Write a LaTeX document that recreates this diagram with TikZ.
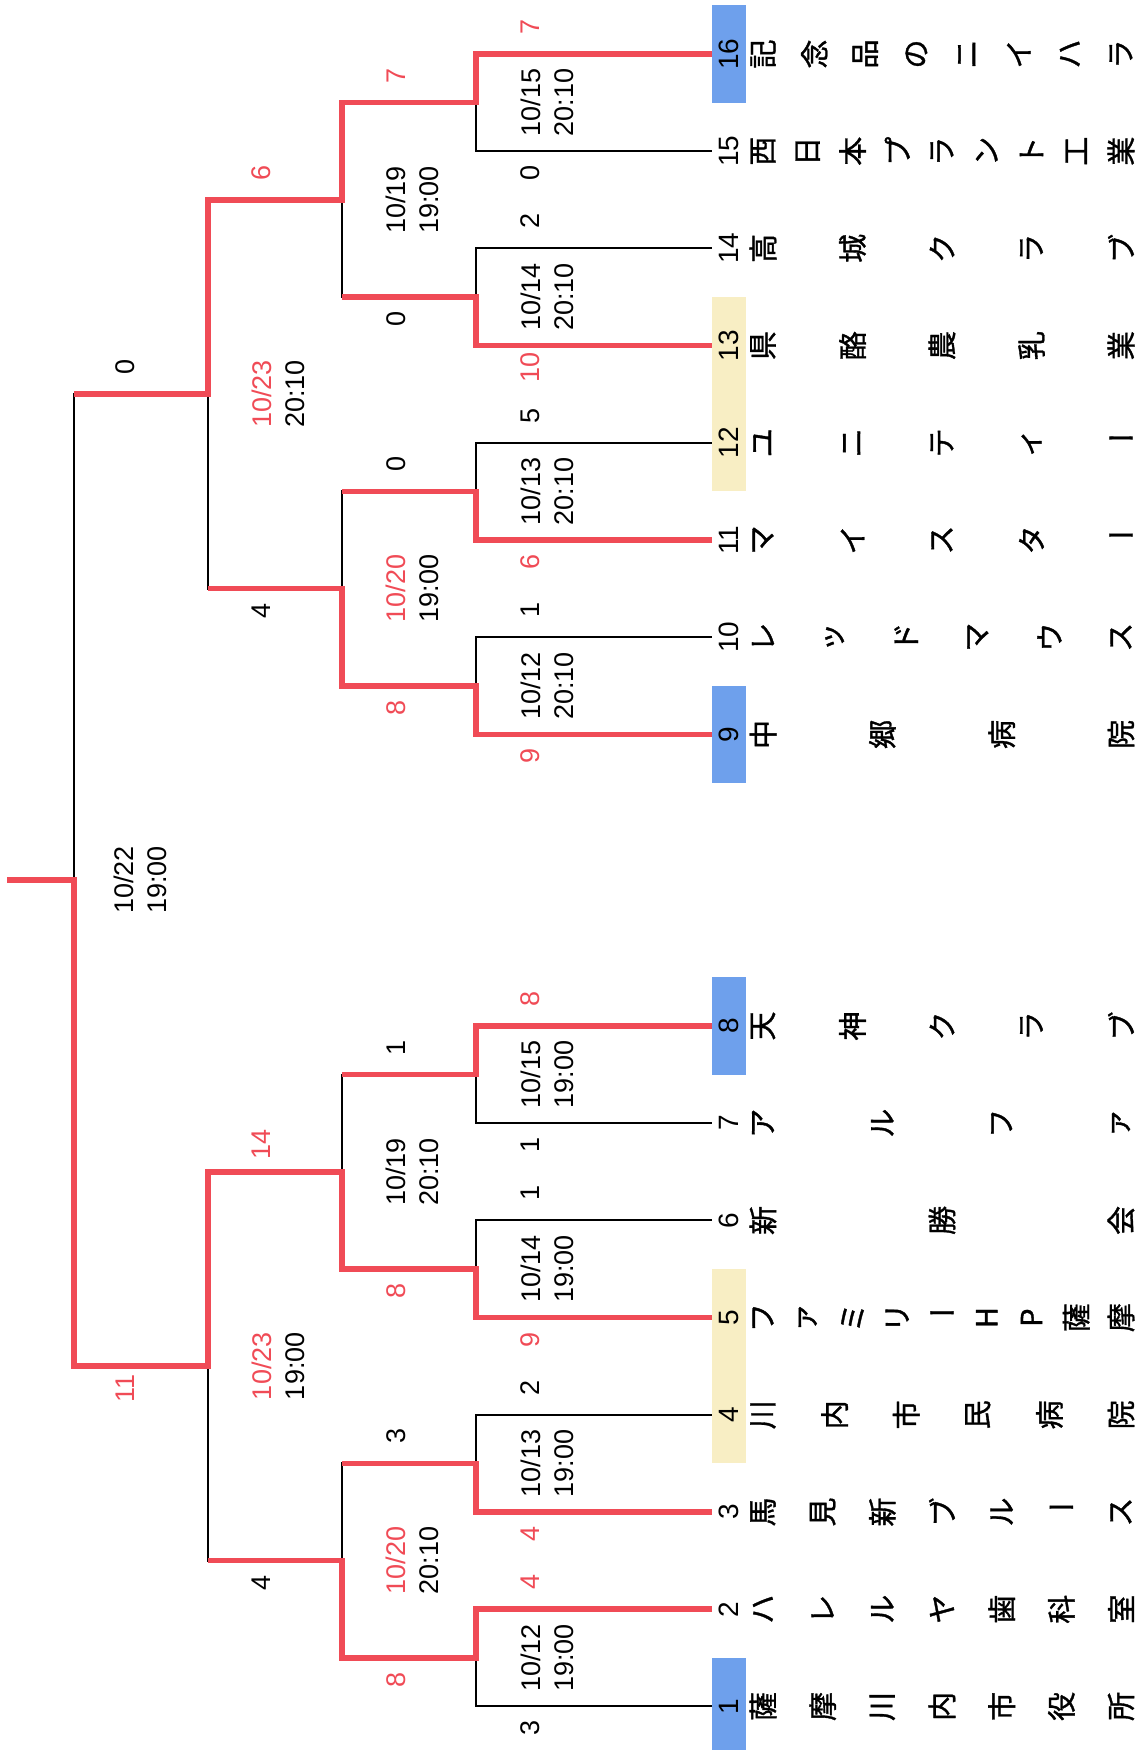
\documentclass[tikz,border=0pt]{standalone}
\usepackage{fontspec}
\setmainfont{Liberation Sans}
\newfontfamily\jpfont[FakeBold=1.2]{Noto Sans CJK JP}
\usetikzlibrary{calc}
\definecolor{wred}{HTML}{F04B56}
\definecolor{bbox}{HTML}{6EA0EC}
\definecolor{ybox}{HTML}{F8EEC4}
\newcommand\chou{\rotatebox{-90}{ー}}
\newcommand\tname[3]{\foreach \c [count=\i from 0] in {#3}{\pgfmathsetmacro\off{34+\i*358/(#2-1)}\node[namech] (#1-\i) at ([xshift=\off pt]#1.center) {\c};}}
\begin{document}
\begin{tikzpicture}[x=1pt,y=-1pt,
  lose/.style={draw=black,line width=2pt},
  win/.style={draw=wred,line width=5.5pt,line join=miter},
  numbox/.style={minimum width=34pt,minimum height=97.2pt,inner sep=0pt,font=\fontsize{28}{28}\selectfont},
  namech/.style={rotate=90,inner sep=0pt,font=\jpfont\fontsize{29}{29}\selectfont},
  date/.style={rotate=90,align=center,inner sep=0pt,font=\fontsize{27}{33}\selectfont},
  score/.style={rotate=90,inner sep=0pt,font=\fontsize{27}{27}\selectfont},
  wsc/.style={score,text=wred},
]
\useasboundingbox (0,0) rectangle (1143,1750);

% team number boxes
\node[numbox,fill=bbox] (n16) at (729,54) {\rotatebox{90}{16}};
\node[numbox] (n15) at (729,151.2) {\rotatebox{90}{15}};
\node[numbox] (n14) at (729,248.4) {\rotatebox{90}{14}};
\node[numbox,fill=ybox] (n13) at (729,345.6) {\rotatebox{90}{13}};
\node[numbox,fill=ybox] (n12) at (729,442.8) {\rotatebox{90}{12}};
\node[numbox] (n11) at (729,540) {\rotatebox{90}{11}};
\node[numbox] (n10) at (729,637.2) {\rotatebox{90}{10}};
\node[numbox,fill=bbox] (n9) at (729,734.4) {\rotatebox{90}{9}};
\node[numbox,fill=bbox] (n8) at (729,1026) {\rotatebox{90}{8}};
\node[numbox] (n7) at (729,1123.2) {\rotatebox{90}{7}};
\node[numbox] (n6) at (729,1220.4) {\rotatebox{90}{6}};
\node[numbox,fill=ybox] (n5) at (729,1317.6) {\rotatebox{90}{5}};
\node[numbox,fill=ybox] (n4) at (729,1414.8) {\rotatebox{90}{4}};
\node[numbox] (n3) at (729,1512) {\rotatebox{90}{3}};
\node[numbox] (n2) at (729,1609.2) {\rotatebox{90}{2}};
\node[numbox,fill=bbox] (n1) at (729,1706.4) {\rotatebox{90}{1}};

% team names
\tname{n16}{8}{記,念,品,の,ニ,イ,ハ,ラ}
\tname{n15}{9}{西,日,本,プ,ラ,ン,ト,工,業}
\tname{n14}{5}{高,城,ク,ラ,ブ}
\tname{n13}{5}{県,酪,農,乳,業}
\tname{n12}{5}{ユ,ニ,テ,ィ,\chou}
\tname{n11}{5}{マ,イ,ス,タ,\chou}
\tname{n10}{6}{レ,ッ,ド,マ,ウ,ス}
\tname{n9}{4}{中,郷,病,院}
\tname{n8}{5}{天,神,ク,ラ,ブ}
\tname{n7}{4}{ア,ル,フ,ァ}
\tname{n6}{3}{新,勝,会}
\tname{n5}{9}{フ,ァ,ミ,リ,\chou,H,P,薩,摩}
\tname{n4}{6}{川,内,市,民,病,院}
\tname{n3}{7}{馬,見,新,ブ,ル,\chou,ス}
\tname{n2}{7}{ハ,レ,ル,ヤ,歯,科,室}
\tname{n1}{7}{薩,摩,川,内,市,役,所}

% match points
\coordinate (a8) at (476,102.6);
\coordinate (a7) at (476,297);
\coordinate (a6) at (476,491.4);
\coordinate (a5) at (476,685.8);
\coordinate (a4) at (476,1074.6);
\coordinate (a3) at (476,1269);
\coordinate (a2) at (476,1463.4);
\coordinate (a1) at (476,1657.8);
\coordinate (b4) at (342,199.8);
\coordinate (b3) at (342,588.6);
\coordinate (b2) at (342,1171.8);
\coordinate (b1) at (342,1560.6);
\coordinate (c2) at (208,394.2);
\coordinate (c1) at (208,1366.2);
\coordinate (fin) at (74,880.2);
\coordinate (out) at (7,880.2);

% black bracket
\foreach \t/\m in {n16/a8,n15/a8,n14/a7,n13/a7,n12/a6,n11/a6,n10/a5,n9/a5,n8/a4,n7/a4,n6/a3,n5/a3,n4/a2,n3/a2,n2/a1,n1/a1}
  \draw[lose] (\t.west) -| (\m);
\foreach \t/\m in {a8/b4,a7/b4,a6/b3,a5/b3,a4/b2,a3/b2,a2/b1,a1/b1,b4/c2,b3/c2,b2/c1,b1/c1,c2/fin,c1/fin}
  \draw[lose] (\t) -| (\m);

% winning paths
\draw[win] (n16.west) -| (a8) -| (b4) -| (c2) -- (c2 -| fin);
\draw[win] (n13.west) -| (a7) -- (a7 -| b4);
\draw[win] (n11.west) -| (a6) -- (a6 -| b3);
\draw[win] (n9.west) -| (a5) -| (b3) -- (b3 -| c2);
\draw[win] (n8.west) -| (a4) -- (a4 -| b2);
\draw[win] (n5.west) -| (a3) -| (b2) -| (c1) -| (fin) -- (out);
\draw[win] (n3.west) -| (a2) -- (a2 -| b1);
\draw[win] (n2.west) -| (a1) -| (b1) -- (b1 -| c1);

% dates
\node[date] (d-a8) at ($(a8)+(71,0)$) {10/15\\20:10};
\node[date] (d-a7) at ($(a7)+(71,0)$) {10/14\\20:10};
\node[date] (d-a6) at ($(a6)+(71,0)$) {10/13\\20:10};
\node[date] (d-a5) at ($(a5)+(71,0)$) {10/12\\20:10};
\node[date] (d-a4) at ($(a4)+(71,0)$) {10/15\\19:00};
\node[date] (d-a3) at ($(a3)+(71,0)$) {10/14\\19:00};
\node[date] (d-a2) at ($(a2)+(71,0)$) {10/13\\19:00};
\node[date] (d-a1) at ($(a1)+(71,0)$) {10/12\\19:00};
\node[date] (d-b4) at ($(b4)+(70,0)$) {10/19\\19:00};
\node[date] (d-b3) at ($(b3)+(70,0)$) {\textcolor{wred}{10/20}\\19:00};
\node[date] (d-b2) at ($(b2)+(70,0)$) {10/19\\20:10};
\node[date] (d-b1) at ($(b1)+(70,0)$) {\textcolor{wred}{10/20}\\20:10};
\node[date] (d-c2) at ($(c2)+(70,0)$) {\textcolor{wred}{10/23}\\20:10};
\node[date] (d-c1) at ($(c1)+(70,0)$) {\textcolor{wred}{10/23}\\19:00};
\node[date] (d-f) at ($(fin)+(66,0)$) {10/22\\19:00};

% round 1 scores
\node[wsc]   (s16) at (530,27) {7};
\node[score] (s15) at (530,173) {0};
\node[score] (s14) at (530,221) {2};
\node[wsc]   (s13) at (530,367) {10};
\node[score] (s12) at (530,416) {5};
\node[wsc]   (s11) at (530,562) {6};
\node[score] (s10) at (530,610) {1};
\node[wsc]   (s9)  at (530,756) {9};
\node[wsc]   (s8)  at (530,999) {8};
\node[score] (s7)  at (530,1145) {1};
\node[score] (s6)  at (530,1193) {1};
\node[wsc]   (s5)  at (530,1340) {9};
\node[score] (s4)  at (530,1388) {2};
\node[wsc]   (s3)  at (530,1534) {4};
\node[wsc]   (s2)  at (530,1582) {4};
\node[score] (s1)  at (530,1728) {3};
% round 2 scores
\node[wsc]   (t8) at (396,75.6) {7};
\node[score] (t7) at (396,319) {0};
\node[score] (t6) at (396,464) {0};
\node[wsc]   (t5) at (396,708) {8};
\node[score] (t4) at (396,1047.6) {1};
\node[wsc]   (t3) at (396,1291) {8};
\node[score] (t2) at (396,1436) {3};
\node[wsc]   (t1) at (396,1680) {8};
% semifinal scores
\node[wsc]   (u4) at (261,172.8) {6};
\node[score] (u3) at (261,610.6) {4};
\node[wsc]   (u2) at (261,1144.8) {14};
\node[score] (u1) at (261,1582.6) {4};
% final scores
\node[score] (v2) at (125,367) {0};
\node[wsc]   (v1) at (125,1388) {11};
\end{tikzpicture}
\end{document}
